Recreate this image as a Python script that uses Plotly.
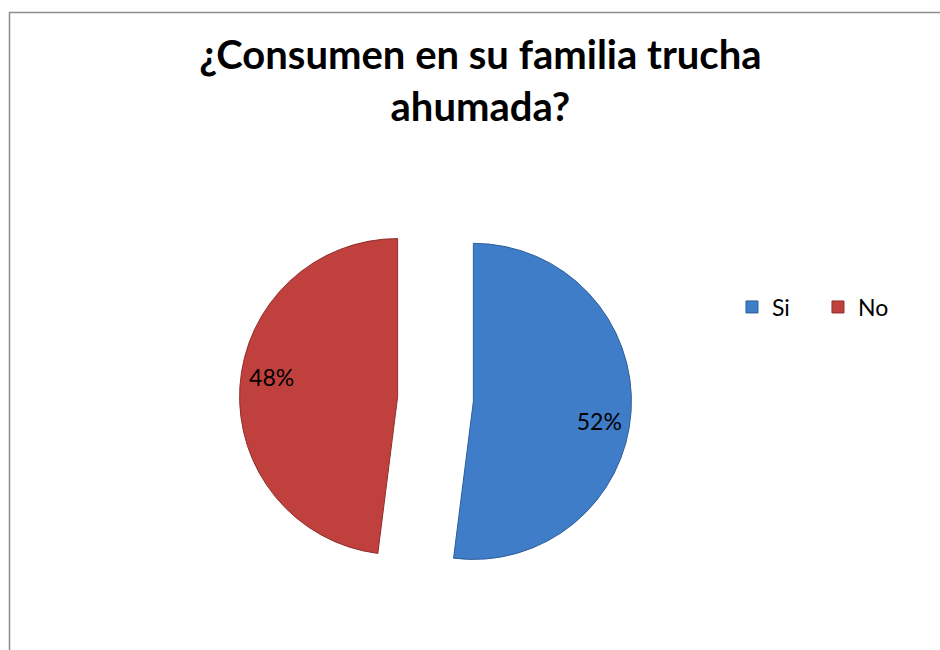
import plotly.graph_objects as go

# Survey answers and their shares (percent)
labels = ["Si", "No"]
shares = [52, 48]
slice_colors = ["#3F7DC8", "#C0403D"]
edge_colors = ["#2E5E99", "#8E2F2D"]

title_text = "¿Consumen en su familia trucha<br>ahumada?"

# Percent labels, padded with blank space so they sit toward the outer rim
pad = "\u00a0" * 16
label_templates = [
    "\u00a0<br>" + pad + "%{percent:.0%}",
    "%{percent:.0%}" + pad + "<br>\u00a0",
]

fig = go.Figure(
    go.Pie(
        labels=labels,
        values=shares,
        sort=False,
        direction="clockwise",
        rotation=0,
        pull=[0.24, 0.24],
        textinfo="percent",
        texttemplate=label_templates,
        textposition="inside",
        insidetextorientation="horizontal",
        textfont=dict(family="Lato", size=23, color="#000000"),
        marker=dict(colors=slice_colors, line=dict(color=edge_colors, width=1)),
        domain=dict(x=[0.2548, 0.6718], y=[0.0846, 0.6877]),
        hoverinfo="label+percent",
    )
)

fig.update_layout(
    width=940,
    height=650,
    margin=dict(l=0, r=0, t=0, b=0, autoexpand=False),
    paper_bgcolor="#FFFFFF",
    plot_bgcolor="#FFFFFF",
    title=dict(
        text=title_text,
        x=0.511,
        xanchor="center",
        y=1 - 69 / 650,
        yanchor="middle",
        font=dict(family="Lato", size=40, color="#000000", weight="bold"),
    ),
    legend=dict(
        orientation="h",
        x=0.7787,
        xanchor="left",
        y=1 - 307 / 650,
        yanchor="middle",
        entrywidth=41,
        font=dict(family="Lato", size=23, color="#000000"),
        traceorder="normal",
        bgcolor="rgba(0,0,0,0)",
    ),
    shapes=[
        dict(
            type="rect",
            xref="paper",
            yref="paper",
            x0=9.5 / 940,
            x1=1.05,
            y0=-0.05,
            y1=1 - 12.5 / 650,
            line=dict(color="#8C8C8C", width=1.5),
            fillcolor="rgba(0,0,0,0)",
            layer="below",
        )
    ],
)

fig.write_html("out.html")
